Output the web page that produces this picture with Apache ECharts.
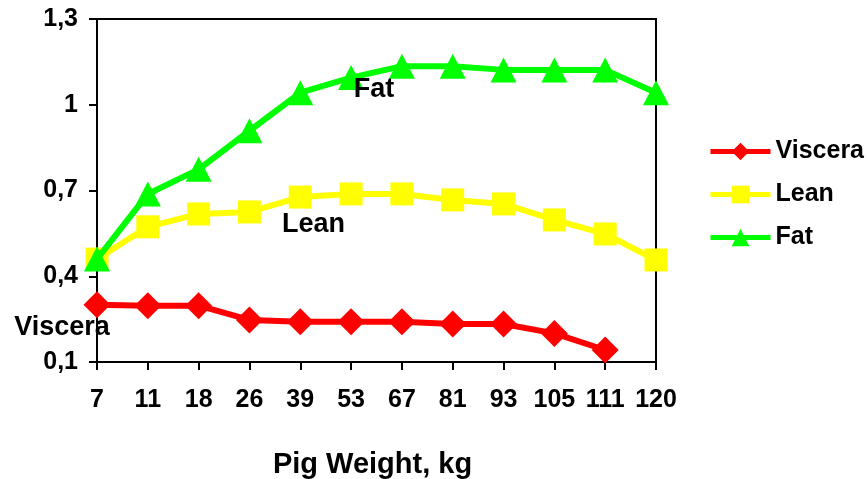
<!DOCTYPE html>
<html>
<head>
<meta charset="utf-8">
<script src="https://cdn.jsdelivr.net/npm/echarts@6/dist/echarts.min.js"></script>
<style>
html,body{margin:0;padding:0;background:#fff;}
#chart{width:868px;height:479px;}
</style>
</head>
<body>
<div id="chart"></div>
<script>
const categories = ['7','11','18','26','39','53','67','81','93','105','111','120'];
const viscera = [0.30, 0.297, 0.297, 0.247, 0.241, 0.241, 0.241, 0.233, 0.233, 0.20, 0.142, null];
const lean = [0.46, 0.573, 0.618, 0.625, 0.677, 0.688, 0.688, 0.667, 0.653, 0.597, 0.548, 0.457];
const fat = [0.46, 0.688, 0.774, 0.909, 1.042, 1.095, 1.135, 1.135, 1.122, 1.122, 1.122, 1.042];
const seriesNames = ['Viscera', 'Lean', 'Fat'];
const yTicks = [0.1, 0.4, 0.7, 1.0, 1.3];
const xTitle = 'Pig Weight, kg';

const FONT = '"Liberation Sans", Arial, sans-serif';

function withLabel(values, name, idx, offset) {
  return values.map((v, i) => i === idx ? {
    value: v,
    label: {
      show: true, position: 'inside', offset: offset,
      formatter: name,
      color: '#000', fontFamily: FONT, fontWeight: 'bold', fontSize: 27
    }
  } : v);
}

const chart = echarts.init(document.getElementById('chart'), null, {renderer: 'canvas'});
chart.setOption({
  animation: false,
  backgroundColor: '#fff',
  grid: {
    left: 97, right: 212, top: 19, bottom: 117,
    outerBoundsMode: 'none',
    containLabel: false,
    show: true, borderColor: '#000', borderWidth: 2, backgroundColor: 'transparent'
  },
  legend: {
    orient: 'vertical',
    left: 703, top: 134,
    itemWidth: 60, itemHeight: 22, itemGap: 18,
    data: seriesNames,
    lineStyle: {width: 5},
    textStyle: {color: '#000', fontFamily: FONT, fontWeight: 'bold', fontSize: 25, lineHeight: 24}
  },
  xAxis: {
    type: 'category',
    data: categories,
    boundaryGap: false,
    axisLine: {show: true, lineStyle: {color: '#000', width: 2}},
    axisTick: {show: true, inside: false, length: 8, alignWithLabel: true, lineStyle: {color: '#000', width: 2}},
    axisLabel: {color: '#000', fontFamily: FONT, fontWeight: 'bold', fontSize: 25, margin: 26, interval: 0},
    splitLine: {show: false},
    name: xTitle,
    nameLocation: 'middle',
    nameGap: 88,
    nameTextStyle: {color: '#000', fontFamily: FONT, fontWeight: 'bold', fontSize: 29, padding: [0, 8, 0, 0]}
  },
  yAxis: {
    type: 'value',
    min: 0.1, max: 1.3, interval: 0.3,
    axisLine: {show: true, lineStyle: {color: '#000', width: 2}},
    axisTick: {show: true, inside: false, length: 8, lineStyle: {color: '#000', width: 2}},
    axisLabel: {
      color: '#000', fontFamily: FONT, fontWeight: 'bold', fontSize: 25, margin: 19,
      formatter: function (v) {
        const r = Math.round(v * 10) / 10;
        return String(r).replace('.', ',');
      }
    },
    splitLine: {show: false}
  },
  series: [
    {
      name: seriesNames[0], type: 'line',
      data: withLabel(viscera, seriesNames[0], 0, [-35, 23]),
      symbol: 'diamond', symbolSize: [27, 27],
      itemStyle: {color: '#FF0000'},
      lineStyle: {color: '#FF0000', width: 6},
      connectNulls: false, z: 2
    },
    {
      name: seriesNames[1], type: 'line',
      data: withLabel(lean, seriesNames[1], 3, [64, 13]),
      symbol: 'rect', symbolSize: 23,
      itemStyle: {color: '#FFFF00'},
      lineStyle: {color: '#FFFF00', width: 6}, z: 3
    },
    {
      name: seriesNames[2], type: 'line',
      data: withLabel(fat, seriesNames[2], 5, [23, 12]),
      symbol: 'triangle', symbolSize: [26, 25],
      itemStyle: {color: '#00FF00'},
      lineStyle: {color: '#00FF00', width: 6}, z: 4
    }
  ]
});
</script>
</body>
</html>
